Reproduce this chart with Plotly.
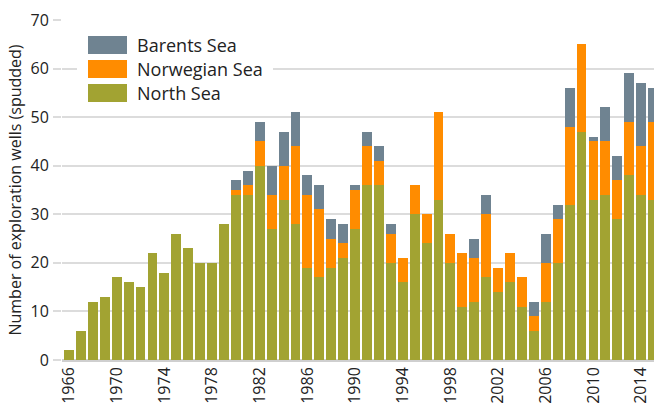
import plotly.graph_objects as go

years = list(range(1966, 2016))
north_sea = [2, 6, 12, 13, 17, 16, 15, 22, 18, 26,
             23, 20, 20, 28, 34, 34, 40, 27, 33, 28,
             19, 17, 19, 21, 27, 36, 36, 20, 16, 30,
             24, 33, 20, 11, 12, 17, 14, 16, 11, 6,
             12, 20, 32, 47, 33, 34, 29, 38, 34, 33]
norwegian_sea = [0, 0, 0, 0, 0, 0, 0, 0, 0, 0,
                 0, 0, 0, 0, 1, 2, 5, 7, 7, 16,
                 15, 14, 6, 3, 8, 8, 5, 6, 5, 6,
                 6, 18, 6, 11, 9, 13, 5, 6, 6, 3,
                 8, 9, 16, 18, 12, 11, 8, 11, 10, 16]
barents_sea = [0, 0, 0, 0, 0, 0, 0, 0, 0, 0,
               0, 0, 0, 0, 2, 3, 4, 6, 7, 7,
               4, 5, 4, 4, 1, 3, 3, 2, 0, 0,
               0, 0, 0, 0, 4, 4, 0, 0, 0, 3,
               6, 3, 8, 0, 1, 7, 5, 10, 13, 7]
series_names = ["North Sea", "Norwegian Sea", "Barents Sea"]
colors = {"North Sea": "#a2a332", "Norwegian Sea": "#ff8c00", "Barents Sea": "#6f8391"}
x_ticks = list(range(1966, 2016, 4))
y_ticks = list(range(0, 71, 10))

FONT = "Open Sans"
fig = go.Figure()
for name, vals in zip(series_names, [north_sea, norwegian_sea, barents_sea]):
    fig.add_trace(go.Bar(x=years, y=vals, name=name, marker_color=colors[name],
                         marker_line_width=0, showlegend=False))

W, H = 654, 410
L, R, T, B = 62, 0, 20, 50
pw, ph = W - L - R, H - T - B

def px(x):
    return (x - L) / pw

def py(y):
    return (H - B - y) / ph

shapes = [dict(type="rect", xref="paper", yref="paper", x0=px(77), x1=px(273),
               y0=py(108), y1=py(28), fillcolor="white", line_width=0, layer="above")]
annotations = []
legend_items = [("Barents Sea", 36), ("Norwegian Sea", 60), ("North Sea", 84)]
for name, top in legend_items:
    shapes.append(dict(type="rect", xref="paper", yref="paper", x0=px(88), x1=px(127),
                       y0=py(top + 18), y1=py(top), fillcolor=colors[name],
                       line_width=0, layer="above"))
    annotations.append(dict(xref="paper", yref="paper", x=px(135), y=py(top + 9),
                            text=name, showarrow=False, xanchor="left", yanchor="middle",
                            font=dict(family=FONT, size=18, color="#222")))

fig.update_layout(
    barmode="stack", bargap=0.17,
    width=W, height=H,
    margin=dict(l=L, r=R, t=T, b=B),
    plot_bgcolor="white", paper_bgcolor="white",
    font=dict(family=FONT, color="#222"),
    shapes=shapes, annotations=annotations,
    xaxis=dict(range=[1965.41, 2015.08], tickmode="array", tickvals=x_ticks,
               ticktext=[str(v) for v in x_ticks], tickangle=-90,
               tickfont=dict(size=16), showgrid=False, ticks="",
               ticklabelstandoff=3,
               showline=False, zeroline=False, automargin=False),
    yaxis=dict(range=[0, 70], tickmode="array", tickvals=y_ticks,
               tickfont=dict(size=16), showgrid=True, gridcolor="#dcdcdc",
               gridwidth=2, zeroline=True, zerolinecolor="#cfcfcf", zerolinewidth=3,
               ticks="outside", ticklen=8, tickcolor="#dcdcdc", tickwidth=2,
               ticklabelstandoff=1, automargin=False,
               title=dict(text="Number of exploration wells (spudded)",
                          font=dict(size=16), standoff=4)),
)
fig.write_html("out.html", config={"displayModeBar": False},
               post_script="document.body.style.margin='0';")
